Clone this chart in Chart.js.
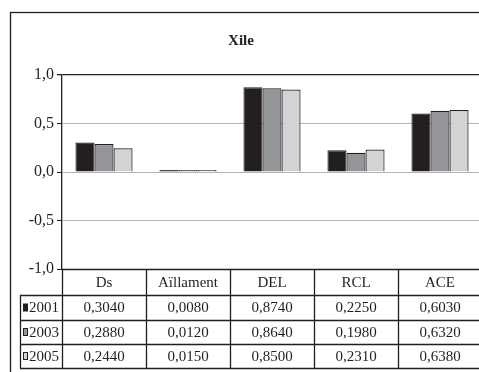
<!DOCTYPE html>
<html><head><meta charset="utf-8">
<script src="https://cdn.jsdelivr.net/npm/chart.js@4/dist/chart.umd.min.js"></script>
<style>
html,body{margin:0;padding:0;background:#fff;overflow:hidden;width:479px;height:372px}
#wrap{position:absolute;left:0;top:0;width:490px;height:372px}
</style></head><body>
<div id="wrap"><canvas id="c" width="490" height="372"></canvas></div>
<script>
const categories = ['Ds', 'Aïllament', 'DEL', 'RCL', 'ACE'];
const seriesNames = ['2001', '2003', '2005'];
const values2001 = [0.3040, 0.0080, 0.8740, 0.2250, 0.6030];
const values2003 = [0.2880, 0.0120, 0.8640, 0.1980, 0.6320];
const values2005 = [0.2440, 0.0150, 0.8500, 0.2310, 0.6380];
const yTicks = [-1.0, -0.5, 0.0, 0.5, 1.0];
const titleText = 'Xile';

const colors = ['#231f20', '#939598', '#d1d3d4'];
const dark = '#231f20';
const FONT = '"Liberation Serif", "DejaVu Serif", serif';
const allValues = [values2001, values2003, values2005];

const fmt = v => v.toFixed(4).replace('.', ',');

const tablePlugin = {
  id: 'dataTable',
  afterDraw(chart) {
    const ctx = chart.ctx;
    const a = chart.chartArea;
    const n = categories.length;
    const cw = (a.right - a.left) / n;
    const xs = chart.scales.x;
    const top = a.bottom;
    const rows = [top, top + 26, top + 51, top + 75, top + 99];
    const legendLeft = 20;
    ctx.save();
    ctx.strokeStyle = dark;
    ctx.lineWidth = 1.3;
    ctx.strokeRect(10.5, 12.5, 700, 600);
    ctx.lineWidth = 1.3;
    ctx.beginPath();
    ctx.moveTo(a.left, rows[0] + 0.5); ctx.lineTo(a.right + 20, rows[0] + 0.5);
    for (let r = 1; r < rows.length; r++) {
      ctx.moveTo(legendLeft, rows[r] + 0.5); ctx.lineTo(a.right + 20, rows[r] + 0.5);
    }
    for (let i = 0; i <= n; i++) {
      const x = Math.round(a.left + i * cw) + 0.5;
      ctx.moveTo(x, rows[0]); ctx.lineTo(x, rows[4] + 0.5);
    }
    ctx.moveTo(legendLeft + 0.5, rows[1]); ctx.lineTo(legendLeft + 0.5, rows[4] + 0.5);
    ctx.stroke();
    ctx.fillStyle = dark;
    ctx.font = '15px ' + FONT;
    ctx.textAlign = 'center';
    ctx.textBaseline = 'middle';
    categories.forEach((c, i) => {
      const cx = xs.getPixelForValue(i);
      ctx.fillText(c, cx, (rows[0] + rows[1]) / 2 + 1);
      allValues.forEach((arr, s) => {
        ctx.fillText(fmt(arr[i]), cx, (rows[s + 1] + rows[s + 2]) / 2 + 1);
      });
    });
    seriesNames.forEach((name, s) => {
      const cy = (rows[s + 1] + rows[s + 2]) / 2;
      ctx.fillStyle = colors[s];
      ctx.fillRect(23.5, cy - 3.5, 4, 7);
      ctx.strokeStyle = dark;
      ctx.lineWidth = 1;
      ctx.strokeRect(23.5, cy - 3.5, 4, 7);
      ctx.fillStyle = dark;
      ctx.textAlign = 'left';
      ctx.fillText(name, 29, cy + 1);
    });
    ctx.restore();
  }
};

new Chart(document.getElementById('c'), {
  type: 'bar',
  data: {
    labels: categories,
    datasets: seriesNames.map((name, s) => ({
      label: name,
      data: allValues[s],
      backgroundColor: colors[s],
      borderColor: dark,
      borderWidth: 1.2,
      minBarLength: 2,
      barPercentage: 1.0,
      categoryPercentage: 0.68
    }))
  },
  options: {
    responsive: false,
    animation: false,
    devicePixelRatio: 1,
    layout: { padding: { top: 0, left: 0, right: 8, bottom: 103 } },
    plugins: {
      legend: { display: false },
      tooltip: { enabled: false },
      title: {
        display: true,
        text: titleText,
        color: dark,
        font: { family: FONT, size: 15, weight: 'bold' },
        padding: { top: 32, bottom: 25 }
      }
    },
    scales: {
      x: { display: false },
      y: {
        min: -1, max: 1,
        afterFit: s => { s.width = 62; },
        afterBuildTicks: s => { s.ticks = yTicks.map(v => ({ value: v })); },
        ticks: {
          color: dark,
          font: { family: FONT, size: 16 },
          padding: 3,
          callback: v => Number(v).toFixed(1).replace('.', ',')
        },
        grid: {
          drawTicks: true,
          tickLength: 5,
          tickColor: dark,
          color: ctx => (ctx.tick && ctx.tick.value === 1 ? dark : '#b4b4b4'),
          lineWidth: ctx => (ctx.tick && ctx.tick.value === 1 ? 1.3 : 1)
        },
        border: { display: true, color: dark, width: 1.3 }
      }
    }
  },
  plugins: [tablePlugin]
});
</script>
</body></html>
